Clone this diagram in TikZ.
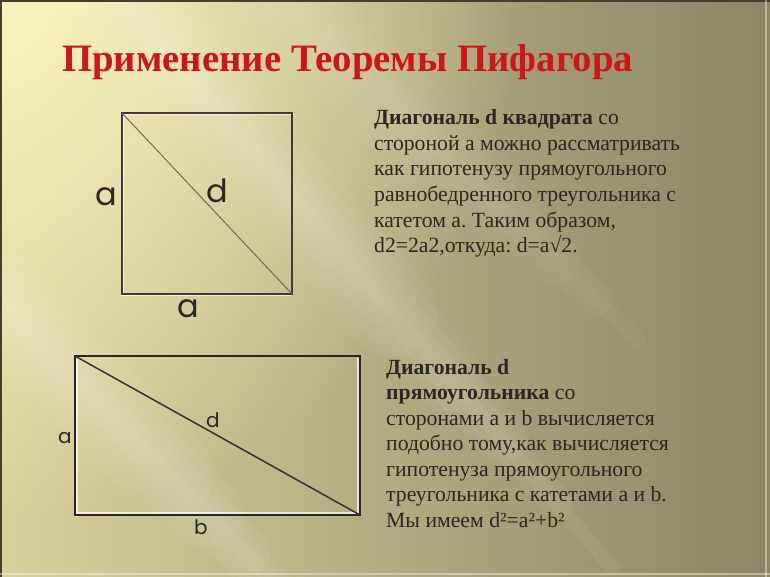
\documentclass[tikz,border=0pt]{standalone}
\usepackage{fontspec}
\setmainfont{Liberation Serif}
\newfontfamily\labelfont{Poppins}
\usetikzlibrary{fadings,calc}
\frenchspacing
\definecolor{bgL}{HTML}{D8D19C}
\definecolor{bgR}{HTML}{8A8666}
\definecolor{glowc}{HTML}{FBF3BE}
\definecolor{titlered}{HTML}{D0151A}
\definecolor{ink}{HTML}{2A2822}
\definecolor{edge}{HTML}{3E3C33}
\definecolor{diag}{HTML}{6E6A55}
\tikzfading[name=glowfade, inner color=transparent!0, outer color=transparent!100]
\tikzset{
  titletext/.style={font=\bfseries\fontsize{38.8}{40}\selectfont, text=titlered, inner sep=0pt},
  bodytext/.style={font=\fontsize{21.7}{24}\selectfont, text=ink, inner sep=0pt, anchor=base west},
  biglabel/.style={font=\labelfont\fontsize{32}{34}\selectfont, text=ink, inner sep=0pt},
  smalllabel/.style={font=\labelfont\fontsize{20}{22}\selectfont, text=ink, inner sep=0pt},
  sqedge/.style={draw=edge, line width=1.6pt},
  rcedge/.style={draw=black!85, line width=2.4pt},
  hilite/.style={draw=white, opacity=0.7, line width=1.2pt},
}
\begin{document}
\begin{tikzpicture}[x=1pt,y=-1pt]
\useasboundingbox (0,0) rectangle (770,577);
\begin{scope}
\clip (0,0) rectangle (770,577);
\shade[left color=bgL, right color=bgR] (0,0) rectangle (770,577);
\fill[glowc, path fading=glowfade, fit fading=true] (0,0) circle (520);
% light streaks (staggered ends for a soft look)
\coordinate (s1a) at (90,-40);  \coordinate (s1b) at (640,600);
\coordinate (s2a) at (-40,260); \coordinate (s2b) at (340,650);
\coordinate (s3a) at (240,-40); \coordinate (s3b) at (660,360);
\foreach \w/\o/\f in {90/0.04/0.55,70/0.04/0.65,50/0.05/0.75,32/0.05/0.85,15/0.05/0.95}{
  \draw[white, opacity=\o, line width=\w pt, line cap=round] (s1a) -- ($(s1a)!\f!(s1b)$);
  \draw[white, opacity=\o, line width=\w pt, line cap=round] (s2a) -- ($(s2a)!\f!(s2b)$);
  \draw[white, opacity=0.6*\o, line width=\w pt, line cap=round] (s3a) -- ($(s3a)!\f!(s3b)$);
}
\end{scope}
% frame
\draw[black!70!olive, line width=2pt] (0,1) -- (770,1);
\draw[black!70!olive, line width=2pt] (1,0) -- (1,577);
\draw[white, opacity=0.4, line width=1.5pt] (0,574) -- (770,574);
\draw[white, opacity=0.4, line width=1.5pt] (766,0) -- (766,577);

% title
\node[titletext, anchor=base west] (title) at (62,72) {Применение Теоремы Пифагора};

% square
\coordinate (sqTL) at (122,113);
\coordinate (sqTR) at (292,113);
\coordinate (sqBR) at (292,294);
\coordinate (sqBL) at (122,294);
\draw[hilite] ([shift={(1.5,1.5)}]sqTL) -- ([shift={(1.5,1.5)}]sqTR);
\draw[hilite] ([shift={(1.5,1.5)}]sqTL) -- ([shift={(1.5,1.5)}]sqBL);
\draw[hilite] ([shift={(-1.5,1.5)}]sqBL) -- ([shift={(-1.5,1.5)}]sqBR);
\draw[sqedge] (sqTL) -- (sqTR) -- (sqBR) -- (sqBL) -- cycle;
\draw[diag, line width=1pt] (sqTL) -- (sqBR);
\node[biglabel] (sqa1) at (106,197) {a};
\node[biglabel] (sqd) at (217,191) {d};
\node[biglabel] (sqa2) at (188,309) {a};

% rectangle
\coordinate (rcTL) at (75,356);
\coordinate (rcTR) at (360,356);
\coordinate (rcBR) at (360,515);
\coordinate (rcBL) at (75,515);
\draw[hilite] ([shift={(2,2)}]rcTL) -- ([shift={(2,2)}]rcBL);
\draw[hilite] ([shift={(2,-2)}]rcBL) -- ([shift={(-2,-2)}]rcBR);
\draw[hilite] ([shift={(-2,2)}]rcTR) -- ([shift={(-2,-2)}]rcBR);
\draw[rcedge] (rcTL) -- (rcTR) -- (rcBR) -- (rcBL) -- cycle;
\draw[black!80, line width=1.5pt] (rcTL) -- (rcBR);
\node[smalllabel] (rca) at (65,438) {a};
\node[smalllabel] (rcd) at (213,420) {d};
\node[smalllabel] (rcb) at (201,527) {b};

% text block 1
\node[bodytext] (p1) at (374,125.0) {\textbf{Диагональ d квадрата} со};
\node[bodytext] (p2) at (374,150.5) {стороной а можно рассматривать};
\node[bodytext] (p3) at (374,176.0) {как гипотенузу прямоугольного};
\node[bodytext] (p4) at (374,201.5) {равнобедренного треугольника с};
\node[bodytext] (p5) at (374,227.0) {катетом а. Таким образом,};
\node[bodytext] (p6) at (374,252.5) {d2=2a2,откуда: d=a√2.};

% text block 2
\node[bodytext] (q1) at (386,374.0) {\textbf{Диагональ d}};
\node[bodytext] (q2) at (386,399.5) {\textbf{прямоугольника} со};
\node[bodytext] (q3) at (386,425.0) {сторонами а и b вычисляется};
\node[bodytext] (q4) at (386,450.5) {подобно тому,как вычисляется};
\node[bodytext] (q5) at (386,476.0) {гипотенуза прямоугольного};
\node[bodytext] (q6) at (386,501.5) {треугольника с катетами а и b.};
\node[bodytext] (q7) at (386,527.0) {Мы имеем d²=a²+b²};
\end{tikzpicture}
\end{document}
